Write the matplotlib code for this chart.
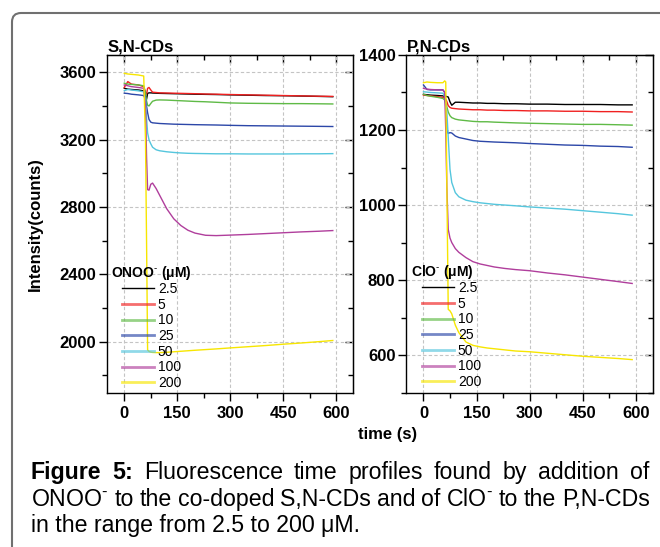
import matplotlib
matplotlib.use("Agg")
import matplotlib.pyplot as plt
from matplotlib.patches import FancyBboxPatch
from matplotlib.transforms import IdentityTransform
from matplotlib.ticker import MultipleLocator

plt.rcParams['font.family'] = ['Liberation Sans', 'DejaVu Sans']
plt.rcParams['mathtext.fontset'] = 'custom'
plt.rcParams['mathtext.rm'] = 'Liberation Sans'
plt.rcParams['mathtext.it'] = 'Liberation Sans:italic'
plt.rcParams['mathtext.bf'] = 'Liberation Sans:bold'

# shared sampling times (s)
time_s = [0, 10, 20, 40, 55, 60, 63, 66, 70, 75, 80, 90, 100, 120, 140, 160,
          180, 200, 230, 260, 300, 350, 400, 450, 500, 550, 590]

conc_labels = ['2.5', '5', '10', '25', '50', '100', '200']
line_colors = ['#000000', '#f02020', '#5fba46', '#2c47a8', '#55c6dd', '#b03e9c', '#f7e600']

# S,N-CDs + ONOO-
sn_2p5 = [3505, 3500, 3498, 3495, 3490, 3460, 3440, 3475, 3478, 3478, 3477, 3476, 3475, 3474,
          3473, 3472, 3471, 3470, 3469, 3468, 3466, 3464, 3462, 3461, 3459, 3457, 3455]
sn_5 = [3510, 3545, 3530, 3525, 3515, 3480, 3470, 3505, 3510, 3495, 3482, 3480, 3478, 3477,
        3476, 3475, 3474, 3473, 3471, 3470, 3468, 3466, 3464, 3462, 3460, 3458, 3457]
sn_10 = [3535, 3530, 3528, 3525, 3520, 3480, 3430, 3405, 3400, 3415, 3428, 3435, 3436, 3435,
         3433, 3431, 3429, 3427, 3425, 3422, 3418, 3416, 3415, 3414, 3414, 3413, 3412]
sn_25 = [3476, 3474, 3470, 3466, 3462, 3440, 3400, 3360, 3320, 3304, 3300, 3298, 3296, 3294,
         3292, 3291, 3290, 3289, 3288, 3287, 3285, 3283, 3282, 3281, 3280, 3279, 3278]
sn_50 = [3491, 3498, 3495, 3490, 3484, 3440, 3330, 3240, 3199, 3175, 3155, 3140, 3134, 3128,
         3124, 3121, 3119, 3118, 3117, 3116, 3116, 3115, 3115, 3115, 3116, 3116, 3117]
sn_100 = [3525, 3520, 3515, 3510, 3505, 3400, 3100, 2903, 2900, 2935, 2942, 2910, 2870, 2790,
          2730, 2690, 2662, 2645, 2632, 2630, 2633, 2637, 2642, 2647, 2652, 2656, 2660]
sn_200 = [3594, 3590, 3588, 3584, 3578, 3200, 2600, 1951, 1942, 1938, 1936, 1935, 1935, 1937,
          1940, 1943, 1946, 1949, 1953, 1957, 1963, 1970, 1977, 1985, 1992, 2000, 2007]

# P,N-CDs + ClO-
pn_2p5 = [1295, 1294, 1293, 1292, 1291, 1290, 1290, 1289, 1288, 1275, 1266, 1274, 1274, 1273,
          1272, 1272, 1271, 1271, 1270, 1270, 1269, 1269, 1268, 1268, 1268, 1267, 1267]
pn_5 = [1293, 1292, 1291, 1289, 1287, 1285, 1282, 1276, 1265, 1260, 1258, 1257, 1256, 1255,
        1254, 1254, 1253, 1253, 1252, 1252, 1251, 1251, 1250, 1250, 1249, 1249, 1248]
pn_10 = [1295, 1292, 1290, 1287, 1284, 1280, 1272, 1262, 1248, 1238, 1233, 1229, 1227, 1225,
         1223, 1222, 1222, 1221, 1220, 1219, 1218, 1217, 1216, 1215, 1215, 1214, 1213]
pn_25 = [1320, 1308, 1307, 1307, 1307, 1300, 1260, 1200, 1191, 1193, 1192, 1184, 1180, 1176,
         1172, 1170, 1169, 1168, 1167, 1166, 1164, 1162, 1160, 1159, 1157, 1156, 1154]
pn_50 = [1302, 1301, 1300, 1299, 1298, 1290, 1270, 1250, 1180, 1095, 1060, 1033, 1022, 1013,
         1009, 1006, 1004, 1002, 1000, 998, 995, 992, 989, 985, 981, 977, 973]
pn_100 = [1311, 1309, 1308, 1307, 1307, 1300, 1200, 1050, 935, 912, 900, 884, 874, 860,
          849, 843, 839, 835, 831, 828, 825, 819, 814, 808, 802, 796, 791]
pn_200 = [1326, 1328, 1327, 1326, 1326, 1331, 1328, 1060, 722, 718, 710, 680, 660, 635,
          626, 622, 619, 617, 614, 611, 609, 605, 601, 597, 594, 591, 588]

sn_series = [sn_2p5, sn_5, sn_10, sn_25, sn_50, sn_100, sn_200]
pn_series = [pn_2p5, pn_5, pn_10, pn_25, pn_50, pn_100, pn_200]

SUP = r'$^{\text{-}}$'

fig = plt.figure(figsize=(6.6, 5.47), dpi=100)

# rounded frame around figure + caption
frame = FancyBboxPatch((12, -60), 720, 547 - 13 + 60, boxstyle="round,pad=0,rounding_size=9",
                       transform=IdentityTransform(), fill=False, edgecolor='#707070', lw=1.5)
fig.patches.append(frame)

ax1 = fig.add_axes([0.1626, 0.2815, 0.3727, 0.618])
ax2 = fig.add_axes([0.6159, 0.2815, 0.373, 0.618])


def style_axes(ax, ylim, ymajor, yminor, title):
    ax.set_xlim(-48, 648)
    ax.set_ylim(*ylim)
    ax.xaxis.set_major_locator(MultipleLocator(150))
    ax.xaxis.set_minor_locator(MultipleLocator(75))
    ax.yaxis.set_major_locator(MultipleLocator(ymajor))
    ax.yaxis.set_minor_locator(MultipleLocator(yminor))
    ax.grid(True, which='major', color='#c4c4c4', ls=(0, (3, 2)), lw=0.8)
    ax.set_axisbelow(True)
    ax.tick_params(which='both', width=1.0, direction='out', top=False, right=False)
    ax.tick_params(which='major', length=6, labelsize=12, pad=2)
    ax.tick_params(which='minor', length=3.5)
    ax.tick_params(axis='x', which='major', pad=3)
    for lab in ax.get_xticklabels() + ax.get_yticklabels():
        lab.set_fontweight('bold')
    for sp in ax.spines.values():
        sp.set_linewidth(1.0)
    ax.set_title(title, loc='left', fontsize=12, fontweight='bold', pad=2)
    # inward ticks on top and right
    sec_x = ax.secondary_xaxis('top')
    sec_x.xaxis.set_major_locator(MultipleLocator(150))
    sec_x.xaxis.set_minor_locator(MultipleLocator(75))
    sec_x.tick_params(which='both', direction='in', labeltop=False, width=1.0)
    sec_x.tick_params(which='major', length=6)
    sec_x.tick_params(which='minor', length=3.5)
    sec_y = ax.secondary_yaxis('right')
    sec_y.yaxis.set_major_locator(MultipleLocator(ymajor))
    sec_y.yaxis.set_minor_locator(MultipleLocator(yminor))
    sec_y.tick_params(which='both', direction='in', labelright=False, width=1.0)
    sec_y.tick_params(which='major', length=6)
    sec_y.tick_params(which='minor', length=3.5)


def add_legend(ax, title, tx, ty, lx, ly):
    leg = ax.legend(loc='upper left', bbox_to_anchor=(lx, ly), frameon=False, fontsize=10,
                    handlelength=2.3, handletextpad=0.3, labelspacing=0.12,
                    borderpad=0, borderaxespad=0)
    for i, ln in enumerate(leg.get_lines()):
        if i > 0:
            ln.set_linewidth(2.0)
            ln.set_alpha(0.65)
    ax.text(tx, ty, title, transform=ax.transAxes, fontsize=10, fontweight='bold', va='center')


for ax, series in [(ax1, sn_series), (ax2, pn_series)]:
    for vals, col, lab in zip(series, line_colors, conc_labels):
        ax.plot(time_s, vals, color=col, lw=1.0, label=lab)

style_axes(ax1, (1695, 3703), 400, 200, 'S,N-CDs')
style_axes(ax2, (499, 1400), 200, 100, 'P,N-CDs')

add_legend(ax1, 'ONOO' + SUP + ' (\u03bcM)', 0.014, 0.354, 0.0585, 0.328)
add_legend(ax2, 'ClO' + SUP + ' (\u03bcM)', 0.017, 0.357, 0.062, 0.331)

ax1.set_ylabel('Intensity(counts)', fontsize=12, fontweight='bold', labelpad=12)
fig.text(388 / 660, 1 - 434 / 547, 'time (s)', fontsize=12, fontweight='bold',
         ha='center', va='center')

# caption, justified like the source
cap_size = 16.7
renderer = fig.canvas.get_renderer()


def caption_line(words, baseline, x0, x1, justify=True):
    texts = []
    for w, bold in words:
        t = fig.text(0, 0, w, fontsize=cap_size, fontweight='bold' if bold else 'normal',
                     transform=IdentityTransform(), va='baseline')
        texts.append(t)
    widths = [t.get_window_extent(renderer).width for t in texts]
    if justify and len(texts) > 1:
        gap = (x1 - x0 - sum(widths)) / (len(texts) - 1)
    else:
        gap = 0.278 * cap_size * 100 / 72
    x = x0
    for t, w in zip(texts, widths):
        t.set_position((x, 547 - baseline))
        x += w + gap


line1 = [('Figure', True), ('5:', True), ('Fluorescence', False), ('time', False),
         ('profiles', False), ('found', False), ('by', False), ('addition', False), ('of', False)]
line2 = [('ONOO' + SUP, False), ('to', False), ('the', False), ('co-doped', False),
         ('S,N-CDs', False), ('and', False), ('of', False), ('ClO' + SUP, False), ('to', False),
         ('the', False), ('P,N-CDs', False)]
line3 = [('in the range from 2.5 to 200 \u03bcM.', False)]

caption_line(line1, 479, 31, 649)
caption_line(line2, 506, 31, 650)
caption_line(line3, 532, 31, 650, justify=False)

fig.savefig('out.png', dpi=100)
